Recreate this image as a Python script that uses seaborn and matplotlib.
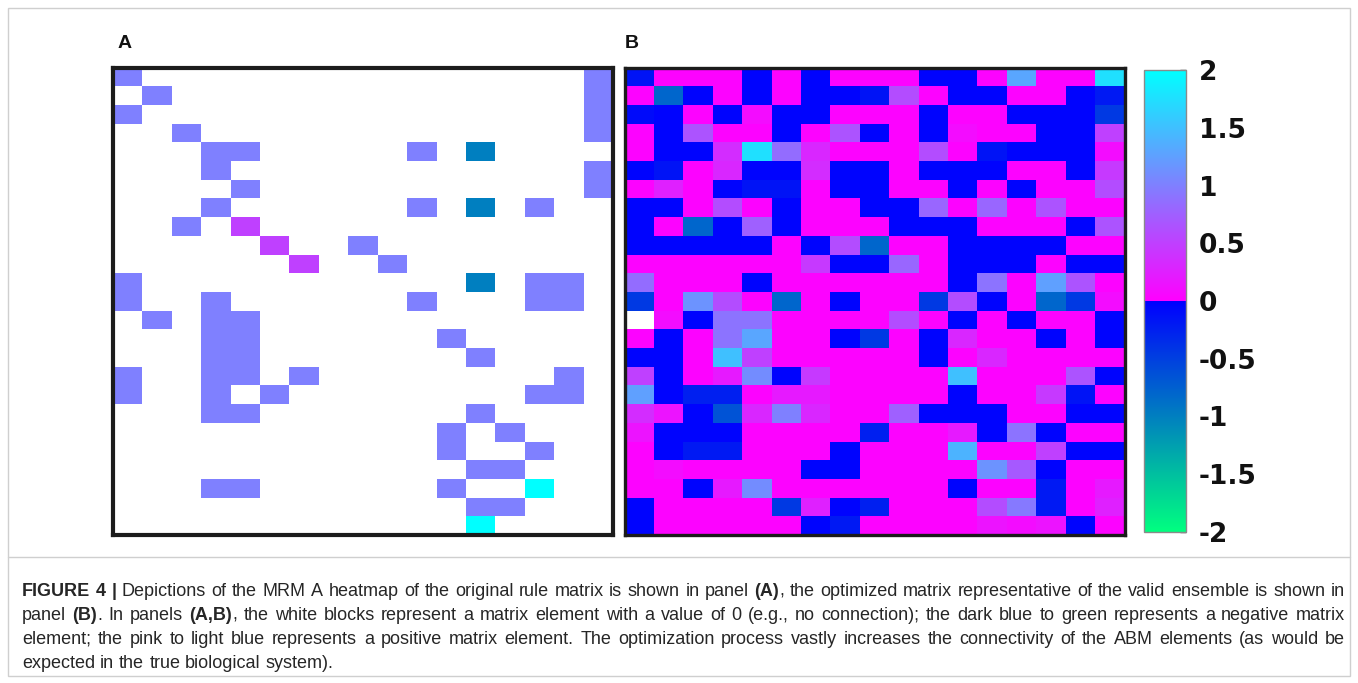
import numpy as np
import matplotlib
matplotlib.use("Agg")
import matplotlib.pyplot as plt
import seaborn as sns
from matplotlib.colors import ListedColormap

# ---------------------------------------------------------------- data
# Original rule matrix (25 rows x 17 columns); 0 = no connection
rule_matrix = [
    [1, 0, 0, 0, 0, 0, 0, 0, 0, 0, 0, 0, 0, 0, 0, 0, 1],
    [0, 1, 0, 0, 0, 0, 0, 0, 0, 0, 0, 0, 0, 0, 0, 0, 1],
    [1, 0, 0, 0, 0, 0, 0, 0, 0, 0, 0, 0, 0, 0, 0, 0, 1],
    [0, 0, 1, 0, 0, 0, 0, 0, 0, 0, 0, 0, 0, 0, 0, 0, 1],
    [0, 0, 0, 1, 1, 0, 0, 0, 0, 0, 1, 0, -1, 0, 0, 0, 0],
    [0, 0, 0, 1, 0, 0, 0, 0, 0, 0, 0, 0, 0, 0, 0, 0, 1],
    [0, 0, 0, 0, 1, 0, 0, 0, 0, 0, 0, 0, 0, 0, 0, 0, 1],
    [0, 0, 0, 1, 0, 0, 0, 0, 0, 0, 1, 0, -1, 0, 1, 0, 0],
    [0, 0, 1, 0, 0.5, 0, 0, 0, 0, 0, 0, 0, 0, 0, 0, 0, 0],
    [0, 0, 0, 0, 0, 0.5, 0, 0, 1, 0, 0, 0, 0, 0, 0, 0, 0],
    [0, 0, 0, 0, 0, 0, 0.5, 0, 0, 1, 0, 0, 0, 0, 0, 0, 0],
    [1, 0, 0, 0, 0, 0, 0, 0, 0, 0, 0, 0, -1, 0, 1, 1, 0],
    [1, 0, 0, 1, 0, 0, 0, 0, 0, 0, 1, 0, 0, 0, 1, 1, 0],
    [0, 1, 0, 1, 1, 0, 0, 0, 0, 0, 0, 0, 0, 0, 0, 0, 0],
    [0, 0, 0, 1, 1, 0, 0, 0, 0, 0, 0, 1, 0, 0, 0, 0, 0],
    [0, 0, 0, 1, 1, 0, 0, 0, 0, 0, 0, 0, 1, 0, 0, 0, 0],
    [1, 0, 0, 1, 1, 0, 1, 0, 0, 0, 0, 0, 0, 0, 0, 1, 0],
    [1, 0, 0, 1, 0, 1, 0, 0, 0, 0, 0, 0, 0, 0, 1, 1, 0],
    [0, 0, 0, 1, 1, 0, 0, 0, 0, 0, 0, 0, 1, 0, 0, 0, 0],
    [0, 0, 0, 0, 0, 0, 0, 0, 0, 0, 0, 1, 0, 1, 0, 0, 0],
    [0, 0, 0, 0, 0, 0, 0, 0, 0, 0, 0, 1, 0, 0, 1, 0, 0],
    [0, 0, 0, 0, 0, 0, 0, 0, 0, 0, 0, 0, 1, 1, 0, 0, 0],
    [0, 0, 0, 1, 1, 0, 0, 0, 0, 0, 0, 1, 0, 0, 2, 0, 0],
    [0, 0, 0, 0, 0, 0, 0, 0, 0, 0, 0, 0, 1, 1, 0, 0, 0],
    [0, 0, 0, 0, 0, 0, 0, 0, 0, 0, 0, 0, 2, 0, 0, 0, 0],
]

# Optimized matrix representative of the valid ensemble
optimized_matrix = [
    [-0.15, 0.03, 0.03, 0.03, -0.03, 0.03, -0.03, 0.03, 0.03, 0.03, -0.03, -0.03, 0.03, 1.3, 0.03, 0.03, 1.75],
    [0.03, -0.8, -0.03, 0.03, -0.03, 0.03, -0.03, -0.03, -0.15, 0.6, 0.03, -0.03, -0.03, 0.03, 0.03, -0.03, -0.2],
    [-0.08, -0.03, 0.03, -0.03, 0.1, -0.03, -0.03, 0.03, 0.03, 0.03, -0.03, 0.03, 0.03, -0.03, -0.03, -0.03, -0.45],
    [0.03, -0.03, 0.65, 0.03, 0.03, -0.03, 0.03, 0.65, -0.03, 0.03, -0.03, 0.1, 0.03, 0.03, -0.03, -0.03, 0.5],
    [0.03, -0.03, -0.03, 0.35, 1.75, 0.85, 0.3, 0.03, 0.03, 0.03, 0.6, 0.03, -0.15, -0.03, -0.03, -0.03, 0.1],
    [-0.03, -0.15, 0.03, 0.3, -0.03, -0.03, 0.35, -0.03, -0.03, 0.03, -0.03, -0.03, -0.03, 0.03, 0.03, -0.03, 0.45],
    [0.03, 0.25, 0.03, -0.03, -0.15, -0.15, 0.03, -0.03, -0.03, 0.03, 0.03, -0.03, 0.03, -0.03, 0.03, 0.03, 0.6],
    [-0.03, -0.03, 0.03, 0.6, 0.03, -0.03, 0.03, 0.03, -0.03, -0.03, 0.8, 0.03, 0.8, 0.03, 0.65, 0.03, 0.03],
    [-0.03, 0.03, -0.8, -0.03, 0.75, -0.03, 0.03, 0.03, 0.03, -0.03, -0.03, -0.03, 0.03, 0.03, 0.03, -0.03, 0.65],
    [-0.03, -0.03, -0.03, -0.03, -0.03, 0.03, -0.03, 0.6, -0.8, 0.03, 0.03, -0.03, -0.03, -0.03, -0.03, 0.03, 0.03],
    [0.03, 0.03, 0.03, 0.03, 0.03, 0.03, 0.45, -0.03, -0.03, 0.8, 0.03, -0.03, -0.03, -0.03, 0.03, -0.03, -0.03],
    [0.85, 0.03, 0.03, 0.03, -0.03, 0.03, 0.03, 0.03, 0.03, 0.03, 0.03, -0.03, 0.9, 0.03, 1.25, 0.65, 0.03],
    [-0.45, 0.03, 1.15, 0.6, 0.03, -0.8, 0.03, -0.03, 0.03, 0.03, -0.45, 0.6, -0.03, 0.03, -0.8, -0.45, 0.1],
    [0.0, 0.1, -0.03, 0.9, 0.9, 0.03, 0.03, 0.03, 0.03, 0.6, 0.03, -0.03, 0.03, -0.03, 0.03, 0.03, -0.03],
    [0.03, -0.03, 0.03, 0.9, 1.3, 0.03, 0.03, -0.03, -0.45, 0.03, -0.03, 0.3, 0.03, 0.03, -0.03, 0.03, -0.03],
    [-0.03, -0.03, 0.03, 1.5, 0.5, 0.03, 0.03, 0.03, 0.03, 0.03, -0.03, 0.03, 0.3, 0.03, 0.03, 0.03, 0.03],
    [0.5, -0.03, 0.03, 0.2, 1.1, -0.03, 0.45, 0.03, 0.03, 0.03, 0.03, 1.5, 0.03, 0.03, 0.03, 0.65, -0.03],
    [1.25, -0.03, -0.25, -0.25, 0.03, 0.2, 0.2, 0.03, 0.03, 0.03, 0.03, -0.03, 0.03, 0.03, 0.45, -0.15, 0.03],
    [0.35, 0.15, -0.03, -0.65, 0.3, 1.0, 0.3, 0.03, 0.03, 0.75, -0.03, -0.03, -0.03, 0.03, 0.03, -0.03, -0.03],
    [0.15, -0.03, -0.03, -0.03, 0.03, 0.03, 0.03, 0.03, -0.25, 0.03, 0.03, 0.2, -0.03, 0.9, -0.03, 0.03, 0.03],
    [0.03, -0.03, -0.2, -0.2, 0.03, 0.03, 0.03, -0.03, 0.03, 0.03, 0.03, 1.4, 0.03, 0.03, 0.5, -0.03, -0.03],
    [0.03, 0.1, 0.03, 0.03, 0.03, 0.03, -0.03, -0.03, 0.03, 0.03, 0.03, 0.03, 1.15, 0.7, -0.03, 0.03, 0.03],
    [0.03, 0.03, -0.03, 0.2, 1.1, 0.03, 0.03, 0.03, 0.03, 0.03, 0.03, -0.03, 0.03, 0.03, -0.2, 0.03, 0.2],
    [-0.03, 0.03, 0.03, 0.03, 0.03, -0.45, 0.25, -0.03, -0.25, 0.03, 0.03, 0.03, 0.6, 0.95, -0.2, 0.03, 0.25],
    [-0.03, 0.03, 0.03, 0.03, 0.03, 0.03, -0.03, -0.2, 0.03, 0.03, 0.03, 0.03, 0.15, 0.1, 0.15, -0.03, 0.03],
]

cbar_ticks = [2, 1.5, 1, 0.5, 0, -0.5, -1, -1.5, -2]
cbar_labels = ["2", "1.5", "1", "0.5", "0", "-0.5", "-1", "-1.5", "-2"]
panel_labels = ["A", "B"]

caption_lines = [
    "**FIGURE 4 |** Depictions of the MRM A heatmap of the original rule matrix is shown in panel **(A)**, "
    "the optimized matrix representative of the valid ensemble is shown in",
    "panel **(B)**. In panels **(A,B)**, the white blocks represent a matrix element with a value of 0 "
    "(e.g., no connection); the dark blue to green represents a negative matrix",
    "element; the pink to light blue represents a positive matrix element. The optimization process "
    "vastly increases the connectivity of the ABM elements (as would be",
    "expected in the true biological system).",
]

# ---------------------------------------------------------------- style
sns.set_theme(style="white")
plt.rcParams["font.family"] = ["DejaVu Sans"]

W, H = 1358, 683
fig = plt.figure(figsize=(W / 100, H / 100), dpi=100)
fig.patch.set_facecolor("white")


def px_rect(x0, y0, x1, y1):
    return [x0 / W, 1 - y1 / H, (x1 - x0) / W, (y1 - y0) / H]


# Diverging map: green->blue for negatives, magenta->cyan for positives
neg = plt.get_cmap("winter")(np.linspace(1, 0, 256))
pos = plt.get_cmap("cool")(np.linspace(1, 0, 256))
rule_cmap = ListedColormap(np.vstack([neg, pos]))

A = np.array(rule_matrix, dtype=float)
B = np.array(optimized_matrix, dtype=float)

ax_a = fig.add_axes(px_rect(113, 67.5, 613, 535))
ax_b = fig.add_axes(px_rect(624.5, 67.5, 1124.5, 535))
cax = fig.add_axes(px_rect(1144, 70, 1186, 532))

sns.heatmap(A, mask=(A == 0), cmap=rule_cmap, vmin=-2, vmax=2, cbar=False,
            xticklabels=False, yticklabels=False, linewidths=0, ax=ax_a)
sns.heatmap(B, mask=(B == 0), cmap=rule_cmap, vmin=-2, vmax=2, cbar=True,
            cbar_ax=cax, cbar_kws={"ticks": cbar_ticks},
            xticklabels=False, yticklabels=False, linewidths=0, ax=ax_b)

for ax, lw in ((ax_a, 3.0), (ax_b, 2.4)):
    ax.set_facecolor("white")
    for sp in ax.spines.values():
        sp.set_visible(True)
        sp.set_color("#1c1c1c")
        sp.set_linewidth(lw)

cbar = ax_b.collections[0].colorbar
cbar.set_ticks(cbar_ticks)
cbar.set_ticklabels(cbar_labels)
cbar.outline.set_edgecolor("#8a8a8a")
cbar.outline.set_linewidth(1.0)
cax.tick_params(axis="y", direction="in", length=4, width=1, color="#333333",
                pad=9, labelsize=19, labelcolor="#111111", right=True)
for t in cax.get_yticklabels():
    t.set_fontweight("bold")

# Panel letters
for lab, xp in zip(panel_labels, (118, 625)):
    fig.text(xp / W, 1 - 43 / H, lab, fontsize=14, fontweight="bold",
             family=["Liberation Sans", "DejaVu Sans"], ha="left", va="center",
             color="#111111")

# Frame and caption separator
fig.add_artist(plt.Rectangle((8 / W, 1 - 676 / H), 1342 / W, 668 / H,
                             transform=fig.transFigure, fill=False,
                             edgecolor="#cfcfcf", linewidth=1.0))
fig.add_artist(plt.Line2D([8 / W, 1350 / W], [1 - 557 / H, 1 - 557 / H],
                          transform=fig.transFigure, color="#cfcfcf", linewidth=1.0))

# ---------------------------------------------------------------- caption
renderer = fig.canvas.get_renderer()
cap_size = 13.0
cap_family = ["Liberation Sans", "DejaVu Sans"]
cap_color = "#262626"


def parse_words(line):
    runs = []
    bold = False
    for i, part in enumerate(line.split("**")):
        if i > 0:
            bold = not bold
        if part:
            runs.append((part, bold))
    words = [[]]
    for text, b in runs:
        pieces = text.split(" ")
        for j, p in enumerate(pieces):
            if j > 0:
                words.append([])
            if p:
                words[-1].append((p, b))
    return [w for w in words if w]


def draw_caption_line(line, x_left, y_base, right=None):
    words = parse_words(line)
    items = []
    widths = []
    for w in words:
        ww = 0
        objs = []
        for txt, b in w:
            t = fig.text(0, 0, txt, fontsize=cap_size, family=cap_family,
                         fontweight="bold" if b else "normal", color=cap_color,
                         ha="left", va="baseline")
            ext = t.get_window_extent(renderer)
            objs.append((t, ext.width))
            ww += ext.width
        items.append(objs)
        widths.append(ww)
    sp = fig.text(0, 0, "a a", fontsize=cap_size, family=cap_family)
    sp_w = sp.get_window_extent(renderer).width
    sp2 = fig.text(0, 0, "aa", fontsize=cap_size, family=cap_family)
    sp_w -= sp2.get_window_extent(renderer).width
    sp.remove()
    sp2.remove()
    if right is not None and len(words) > 1:
        gap = (right - x_left - sum(widths)) / (len(words) - 1)
        gap = max(gap, 0.6 * sp_w)
    else:
        gap = sp_w
    x = x_left
    for objs, ww in zip(items, widths):
        xx = x
        for t, w in objs:
            t.set_position((xx / W, 1 - y_base / H))
            xx += w
        x += ww + gap


baselines = [596, 620, 644, 668]
for i, (line, yb) in enumerate(zip(caption_lines, baselines)):
    draw_caption_line(line, 22, yb, right=1345 if i < 3 else None)

fig.savefig("out.png", dpi=100, facecolor="white")
